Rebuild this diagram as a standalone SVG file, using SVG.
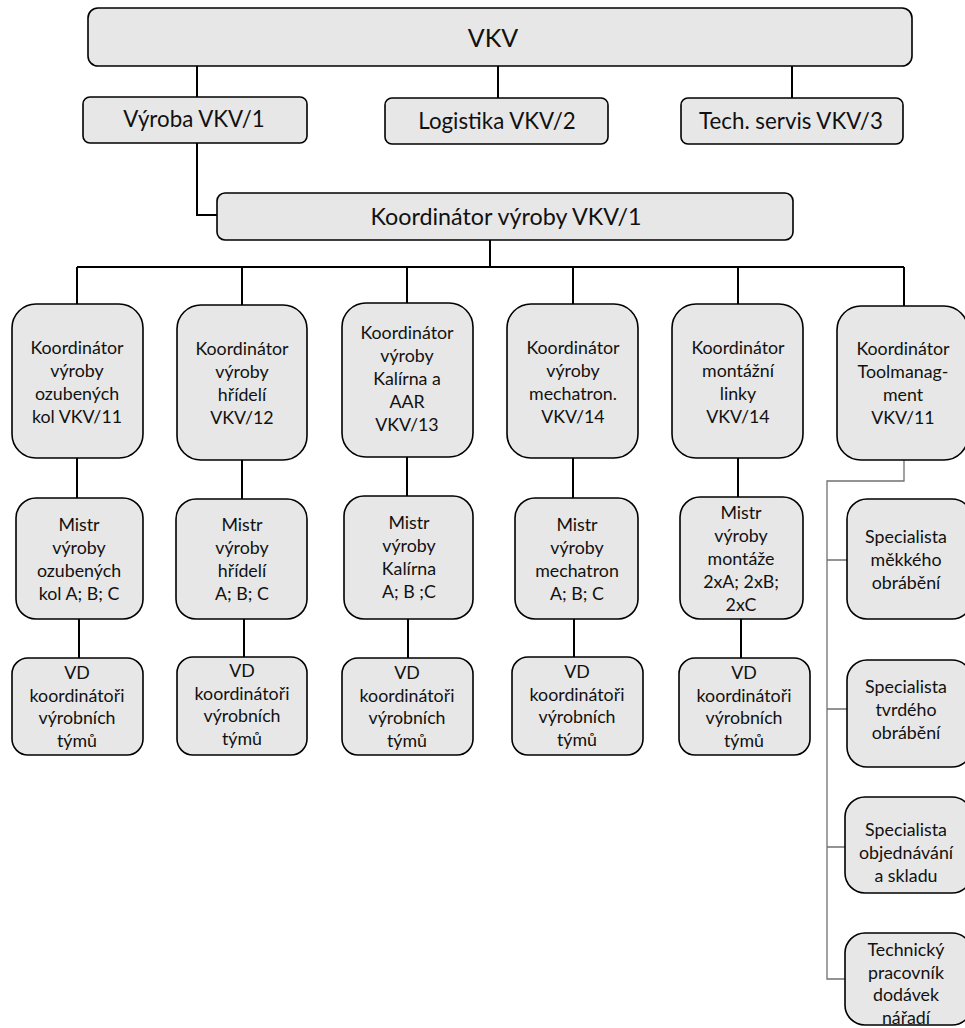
<svg xmlns="http://www.w3.org/2000/svg" width="965" height="1028" viewBox="0 0 965 1028">
<style>
.b{fill:#e7e7e7;stroke:#000;stroke-width:1.6}
text{font-family:Lato,"Liberation Sans",sans-serif;fill:#111;text-anchor:middle}
.t{font-size:17.8px}
.c{stroke:#000;stroke-width:2;fill:none}
.g{stroke:#707070;stroke-width:1.3;fill:none}
</style>
<rect width="965" height="1028" fill="#fff"/>
<g id="connectors">
<path class="c" d="M197 66V98M498 66V98M792 66V98"/>
<path class="c" d="M197 143V215H217"/>
<path class="c" d="M490 240V267M77 267H904M77 267V304M242 267V305M407 267V303M573 267V304M738 267V304M904 267V306"/>
<path class="c" d="M77 458V498M242 460V499M407 457V496M573 458V498M738 458V497"/>
<path class="c" d="M79 619V658M244 619V657M408 619V658M574 619V657M741 619V658"/>
<path class="g" d="M904 460V481H827V979H847M827 560H847M827 709H847M827 847H847"/>
</g>
<g id="vkv"><rect class="b" x="88" y="8" width="824" height="58" rx="10"/><text x="493" y="47" font-size="25">VKV</text></g>
<g id="vyroba"><rect class="b" x="83" y="97" width="224" height="46" rx="7"/><text x="194" y="127" font-size="22.3">Výroba VKV/1</text></g>
<g id="logistika"><rect class="b" x="385" y="98" width="223" height="46" rx="7"/><text x="497" y="129" font-size="22.3">Logistika VKV/2</text></g>
<g id="techservis"><rect class="b" x="681" y="98" width="222" height="46" rx="7"/><text x="791" y="129" font-size="22.3">Tech. servis VKV/3</text></g>
<g id="koord"><rect class="b" x="217" y="193" width="576" height="47" rx="8"/><text x="506" y="225" font-size="23.3">Koordinátor výroby VKV/1</text></g>

<g id="k11"><rect class="b" x="12" y="304" width="131" height="154" rx="24"/><text class="t" x="77" y="354">Koordinátor<tspan x="77" dy="23">výroby</tspan><tspan x="77" dy="23">ozubených</tspan><tspan x="77" dy="23">kol VKV/11</tspan></text></g>
<g id="k12"><rect class="b" x="177" y="305" width="130" height="155" rx="24"/><text class="t" x="242" y="355">Koordinátor<tspan x="242" dy="23">výroby</tspan><tspan x="242" dy="23">hřídelí</tspan><tspan x="242" dy="23">VKV/12</tspan></text></g>
<g id="k13"><rect class="b" x="342" y="303" width="131" height="154" rx="24"/><text class="t" x="407" y="339">Koordinátor<tspan x="407" dy="23">výroby</tspan><tspan x="407" dy="23">Kalírna a</tspan><tspan x="407" dy="23">AAR</tspan><tspan x="407" dy="23">VKV/13</tspan></text></g>
<g id="k14a"><rect class="b" x="507" y="304" width="131" height="154" rx="24"/><text class="t" x="573" y="354">Koordinátor<tspan x="573" dy="23">výroby</tspan><tspan x="573" dy="23">mechatron.</tspan><tspan x="573" dy="23">VKV/14</tspan></text></g>
<g id="k14b"><rect class="b" x="672" y="304" width="131" height="154" rx="24"/><text class="t" x="738" y="354">Koordinátor<tspan x="738" dy="23">montážní</tspan><tspan x="738" dy="23">linky</tspan><tspan x="738" dy="23">VKV/14</tspan></text></g>
<g id="k11t"><rect class="b" x="837" y="306" width="131" height="154" rx="24"/><text class="t" x="903" y="355">Koordinátor<tspan x="903" dy="23">Toolmanag-</tspan><tspan x="903" dy="23">ment</tspan><tspan x="903" dy="23">VKV/11</tspan></text></g>

<g id="m1"><rect class="b" x="16" y="498" width="127" height="121" rx="20"/><text class="t" x="79" y="531">Mistr<tspan x="79" dy="23">výroby</tspan><tspan x="79" dy="23">ozubených</tspan><tspan x="79" dy="23">kol A; B; C</tspan></text></g>
<g id="m2"><rect class="b" x="176" y="499" width="131" height="120" rx="20"/><text class="t" x="242" y="531">Mistr<tspan x="242" dy="23">výroby</tspan><tspan x="242" dy="23">hřídelí</tspan><tspan x="242" dy="23">A; B; C</tspan></text></g>
<g id="m3"><rect class="b" x="344" y="496" width="129" height="123" rx="20"/><text class="t" x="409" y="529">Mistr<tspan x="409" dy="23">výroby</tspan><tspan x="409" dy="23">Kalírna</tspan><tspan x="409" dy="23">A; B ;C</tspan></text></g>
<g id="m4"><rect class="b" x="515" y="498" width="123" height="121" rx="20"/><text class="t" x="577" y="531">Mistr<tspan x="577" dy="23">výroby</tspan><tspan x="577" dy="23">mechatron</tspan><tspan x="577" dy="23">A; B; C</tspan></text></g>
<g id="m5"><rect class="b" x="680" y="497" width="123" height="122" rx="20"/><text class="t" x="741" y="519">Mistr<tspan x="741" dy="23">výroby</tspan><tspan x="741" dy="23">montáže</tspan><tspan x="741" dy="23">2xA; 2xB;</tspan><tspan x="741" dy="23">2xC</tspan></text></g>

<g id="vd1"><rect class="b" x="12" y="658" width="131" height="97" rx="16"/><text class="t" x="77" y="679">VD<tspan x="77" dy="22.5">koordinátoři</tspan><tspan x="77" dy="22.5">výrobních</tspan><tspan x="77" dy="22.5">týmů</tspan></text></g>
<g id="vd2"><rect class="b" x="177" y="657" width="130" height="98" rx="16"/><text class="t" x="242" y="677">VD<tspan x="242" dy="22.5">koordinátoři</tspan><tspan x="242" dy="22.5">výrobních</tspan><tspan x="242" dy="22.5">týmů</tspan></text></g>
<g id="vd3"><rect class="b" x="342" y="658" width="131" height="97" rx="16"/><text class="t" x="407" y="679">VD<tspan x="407" dy="22.5">koordinátoři</tspan><tspan x="407" dy="22.5">výrobních</tspan><tspan x="407" dy="22.5">týmů</tspan></text></g>
<g id="vd4"><rect class="b" x="512" y="657" width="131" height="98" rx="16"/><text class="t" x="577" y="678">VD<tspan x="577" dy="22.5">koordinátoři</tspan><tspan x="577" dy="22.5">výrobních</tspan><tspan x="577" dy="22.5">týmů</tspan></text></g>
<g id="vd5"><rect class="b" x="679" y="658" width="131" height="97" rx="16"/><text class="t" x="744" y="679">VD<tspan x="744" dy="22.5">koordinátoři</tspan><tspan x="744" dy="22.5">výrobních</tspan><tspan x="744" dy="22.5">týmů</tspan></text></g>

<g id="s1"><rect class="b" x="847" y="499" width="125" height="120" rx="20"/><text class="t" x="906" y="543">Specialista<tspan x="906" dy="23">měkkého</tspan><tspan x="906" dy="23">obrábění</tspan></text></g>
<g id="s2"><rect class="b" x="847" y="660" width="125" height="107" rx="20"/><text class="t" x="906" y="693">Specialista<tspan x="906" dy="23">tvrdého</tspan><tspan x="906" dy="23">obrábění</tspan></text></g>
<g id="s3"><rect class="b" x="845" y="797" width="127" height="96" rx="20"/><text class="t" x="906" y="836">Specialista<tspan x="906" dy="23">objednávání</tspan><tspan x="906" dy="23">a skladu</tspan></text></g>
<g id="s4"><rect class="b" x="845" y="933" width="127" height="92" rx="20"/><text class="t" x="906" y="956">Technický<tspan x="906" dy="22.5">pracovník</tspan><tspan x="906" dy="22.5">dodávek</tspan><tspan x="906" dy="22.5">nářadí</tspan></text></g>
</svg>
